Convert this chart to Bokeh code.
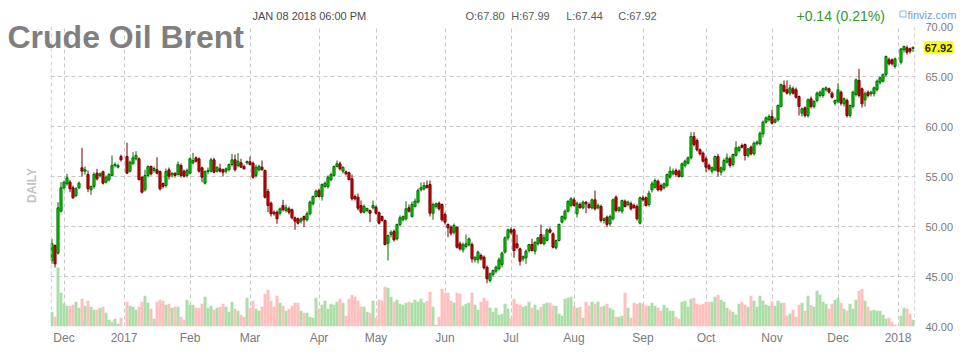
import numpy as np
from bokeh.plotting import figure
from bokeh.models import Range1d, FixedTicker, Span, ColumnDataSource, NumeralTickFormatter
from bokeh.core.properties import value
from bokeh.embed import file_html
from bokeh.resources import INLINE

# ---------------- data (one slot per trading day, None = holiday slot) ----------------
opens = [
    46.60, 48.10, 47.33, 51.53, 53.87, 54.27, 54.43, 53.87, 53.10, 53.87,
    55.87, 55.53, 55.20, 53.67, 54.00, 55.33, 55.10, 55.47, 54.43, 54.67,
    55.10, 56.10, 55.93, 57.00, None, 57.00, 55.53, 56.27, 56.77, 56.77,
    54.93, 53.67, 55.10, 56.00, 55.60, 55.67, 55.50, 54.30, 54.10, 55.67,
    55.17, 55.33, 55.20, 56.10, 55.53, 55.10, 55.33, 56.37, 56.87, 56.77,
    55.87, 54.33, 55.50, 55.53, 56.67, 55.53, 55.77, 55.67, 55.53, 55.70,
    56.20, 56.67, 56.10, 56.37, 56.00, 56.37, 56.47, 56.33, 55.10, 55.67,
    55.93, 55.60, 53.50, 52.33, 51.43, 51.43, 51.33, 52.10, 51.60, 51.77,
    51.67, 50.87, 50.77, 50.53, 51.00, 50.67, 51.27, 52.27, 53.00, 53.60,
    53.00, 54.00, 54.00, 54.67, 55.10, 56.00, 56.27, 55.53, 55.47, 55.37,
    54.77, 53.00, 52.93, 52.10, 51.43, 51.60, 51.60, 51.87, 51.93, 51.37,
    51.00, 50.60, 48.33, 49.20, 49.50, 48.77, 50.20, 50.67, 50.77, 51.87,
    51.00, 52.00, 52.43, 53.67, 53.77, 54.10, 54.20, 51.33, 52.00, 52.33,
    52.20, 51.20, 50.20, 49.93, 49.43, 49.93, 48.27, 47.67, 48.00, 48.17,
    48.20, 46.67, 46.67, 47.10, 46.93, 45.93, 44.60, 45.20, 45.53, 45.77,
    46.20, 47.43, 48.87, 49.67, 49.67, 48.27, 47.77, 46.77, 46.87, 47.60,
    48.20, 47.53, 48.27, 49.20, 48.27, 48.60, 49.67, 49.27, 47.87, 48.60,
    50.43, 50.77, 51.53, 52.10, 52.67, 51.27, 52.20, 51.87, 52.43, 52.20,
    51.87, 52.67, 51.87, 52.00, 50.60, 50.93, 50.27, 50.77, 52.93, 51.60,
    51.53, 52.53, 52.20, 52.27, 52.10, 52.00, 50.33, 52.87, 52.87, 52.20,
    53.67, 53.93, 54.53, 54.10, 53.87, 54.10, 54.93, 55.27, 55.60, 55.53,
    55.00, 56.10, 56.33, 56.87, 59.00, 58.60, 57.67, 57.33, 56.77, 56.10,
    55.53, 55.67, 57.00, 55.43, 55.67, 56.43, 56.77, 56.20, 57.10, 57.60,
    58.10, 58.20, 57.10, 57.93, 57.27, 58.27, 58.27, 59.27, 60.43, 60.67,
    61.00, 60.43, 60.67, 62.00, 64.10, 63.67, 63.33, 63.77, 63.67, 63.00,
    61.33, 61.87, 61.10, 62.77, 62.00, 62.60, 63.10, 63.10, 63.67, 63.77,
    63.33, 62.33, 62.53, 63.43, 62.27, 62.60, 61.10, 62.00, 63.20, 64.60,
    63.77, 62.67, 63.43, 63.27, 63.27, 63.67, 64.43, 64.53, 65.20, 66.67,
    66.67, 66.00, None, 66.43, 67.67, 67.87, 67.77, 67.80,
]
highs = [
    48.77, 48.20, 52.43, 54.43, 54.60, 55.27, 54.67, 54.10, 53.93, 54.50,
    57.87, 56.00, 55.60, 54.10, 55.43, 55.77, 55.40, 55.60, 55.10, 55.33,
    57.10, 56.40, 56.30, 57.20, None, 58.37, 56.60, 57.43, 57.53, 56.90,
    55.00, 55.67, 56.10, 56.10, 56.00, 56.93, 55.60, 54.40, 55.80, 55.90,
    55.40, 55.40, 56.50, 56.30, 55.70, 55.80, 56.90, 57.37, 57.00, 56.90,
    56.00, 55.60, 55.90, 56.87, 56.87, 56.00, 56.27, 55.80, 55.90, 56.30,
    57.27, 57.20, 57.33, 56.77, 56.20, 56.60, 57.00, 56.50, 56.17, 56.17,
    56.60, 55.70, 53.77, 52.50, 51.60, 51.60, 51.90, 52.67, 52.20, 52.00,
    51.80, 51.00, 50.90, 50.90, 51.10, 51.50, 52.60, 53.10, 53.70, 53.80,
    54.30, 54.50, 55.10, 55.40, 56.10, 56.60, 56.50, 56.00, 55.60, 55.50,
    55.20, 53.20, 53.30, 52.60, 52.20, 51.90, 51.70, 52.60, 52.10, 51.50,
    51.10, 50.70, 49.20, 49.60, 49.70, 50.30, 51.10, 51.10, 52.53, 52.20,
    52.50, 52.80, 53.80, 54.40, 54.43, 54.60, 54.60, 52.40, 52.40, 52.50,
    52.30, 51.40, 50.30, 50.10, 50.30, 50.00, 48.50, 48.40, 49.20, 48.90,
    48.40, 47.00, 47.60, 47.30, 47.10, 46.10, 45.40, 45.70, 46.10, 46.90,
    47.50, 49.00, 49.80, 49.90, 49.80, 49.20, 47.90, 47.10, 47.70, 48.20,
    48.77, 48.50, 48.90, 50.20, 49.20, 49.80, 49.90, 49.40, 48.70, 50.30,
    51.10, 51.70, 52.60, 52.93, 52.90, 52.50, 52.40, 52.60, 52.53, 52.40,
    52.80, 53.60, 52.30, 52.20, 50.90, 51.10, 51.20, 52.80, 53.10, 52.00,
    52.70, 52.70, 52.60, 52.50, 52.30, 52.20, 53.00, 53.10, 53.00, 53.60,
    54.50, 54.80, 54.70, 54.30, 54.40, 55.30, 56.00, 55.80, 55.80, 55.70,
    56.40, 56.70, 57.00, 59.43, 59.43, 58.80, 57.80, 57.50, 57.00, 56.30,
    56.00, 57.10, 57.27, 56.00, 56.80, 57.30, 57.00, 57.30, 58.53, 58.00,
    58.30, 58.30, 57.80, 58.10, 58.50, 58.60, 59.50, 60.60, 61.00, 61.20,
    61.67, 60.90, 62.20, 64.30, 64.60, 64.60, 64.20, 64.00, 63.90, 63.10,
    61.90, 62.00, 62.80, 63.00, 62.60, 63.50, 63.60, 63.90, 64.00, 63.90,
    63.50, 62.70, 64.33, 63.60, 62.90, 62.80, 62.20, 63.60, 64.80, 65.77,
    63.90, 63.50, 63.60, 63.60, 64.00, 64.70, 65.00, 65.30, 67.10, 66.90,
    66.80, 66.90, None, 67.80, 68.10, 68.10, 67.90, 67.99,
]
lows = [
    46.27, 45.90, 47.20, 51.40, 53.70, 54.10, 53.43, 52.77, 52.93, 53.73,
    55.00, 55.20, 53.43, 53.17, 53.77, 54.60, 54.90, 54.20, 54.30, 54.50,
    55.00, 55.90, 55.80, 56.50, None, 55.27, 55.40, 56.20, 56.60, 54.60,
    53.30, 53.50, 54.90, 55.10, 55.40, 55.20, 53.60, 53.80, 53.90, 54.70,
    54.90, 54.90, 55.10, 54.90, 54.90, 54.90, 55.20, 56.20, 56.40, 55.40,
    54.43, 54.20, 55.20, 55.40, 55.33, 55.40, 55.40, 55.00, 55.30, 55.50,
    56.00, 55.50, 55.90, 55.90, 55.70, 56.20, 56.10, 54.80, 54.90, 55.50,
    55.60, 52.80, 51.43, 51.00, 51.10, 50.27, 51.10, 51.50, 51.40, 51.20,
    50.70, 49.67, 50.20, 50.30, 49.93, 50.50, 51.10, 52.10, 52.90, 52.90,
    52.60, 53.90, 53.80, 54.50, 55.00, 55.90, 55.60, 55.30, 55.10, 54.60,
    52.60, 52.60, 51.60, 51.30, 51.30, 51.40, 50.43, 51.70, 51.20, 50.20,
    50.50, 48.10, 46.60, 48.90, 48.50, 48.60, 50.00, 50.50, 50.60, 51.40,
    50.90, 51.90, 52.30, 53.50, 53.60, 53.90, 51.00, 50.67, 51.80, 51.60,
    50.50, 50.20, 48.93, 49.10, 49.20, 47.80, 47.60, 47.40, 47.80, 48.00,
    46.40, 46.40, 46.30, 46.60, 45.70, 44.33, 44.40, 45.00, 45.30, 45.60,
    45.90, 47.30, 48.60, 49.20, 46.87, 47.80, 46.10, 46.50, 46.27, 47.40,
    47.50, 47.20, 48.10, 48.20, 48.10, 48.50, 49.30, 47.80, 47.70, 48.50,
    50.30, 50.60, 51.40, 51.90, 52.00, 50.90, 51.80, 51.70, 51.33, 51.80,
    51.70, 51.60, 51.70, 50.40, 50.30, 49.93, 50.00, 50.60, 51.40, 51.40,
    51.30, 51.90, 52.00, 51.60, 51.80, 50.60, 50.20, 52.50, 52.00, 52.00,
    53.40, 53.80, 53.50, 53.50, 53.70, 53.90, 54.80, 55.10, 55.00, 54.90,
    54.90, 55.90, 56.20, 56.70, 58.00, 57.50, 57.10, 56.40, 55.43, 55.60,
    55.30, 55.50, 55.00, 55.10, 55.50, 56.30, 55.90, 56.00, 57.00, 57.40,
    57.80, 56.60, 56.90, 57.10, 57.10, 58.10, 58.10, 58.90, 60.30, 60.50,
    60.20, 60.30, 60.50, 61.90, 63.40, 63.20, 63.10, 63.20, 62.80, 61.10,
    61.00, 60.90, 60.90, 61.80, 61.80, 62.40, 62.90, 62.90, 63.50, 63.30,
    62.80, 62.10, 62.30, 62.10, 62.00, 60.90, 60.90, 61.80, 63.00, 62.90,
    61.90, 62.00, 62.90, 63.00, 63.00, 63.50, 64.20, 64.40, 65.00, 66.10,
    66.10, 65.80, None, 66.20, 67.40, 67.20, 67.30, 67.44,
]
closes = [
    48.27, 46.27, 51.87, 53.87, 54.43, 54.87, 53.77, 52.87, 53.77, 54.33,
    55.53, 55.67, 53.77, 54.00, 55.20, 54.77, 55.27, 54.33, 54.93, 55.20,
    56.10, 56.20, 56.10, 56.67, None, 55.33, 56.43, 56.87, 57.10, 54.70,
    53.43, 55.10, 56.00, 55.27, 55.80, 55.33, 53.77, 54.00, 55.50, 55.03,
    55.33, 55.10, 56.20, 55.10, 55.03, 55.60, 56.77, 56.60, 56.53, 55.53,
    54.93, 55.50, 55.60, 56.67, 55.43, 55.93, 55.53, 55.43, 55.77, 56.20,
    56.67, 55.67, 56.53, 55.93, 55.77, 56.50, 56.20, 54.93, 55.93, 56.00,
    55.67, 52.93, 52.10, 51.27, 51.27, 50.77, 51.77, 51.67, 51.87, 51.43,
    50.87, 50.53, 50.33, 50.77, 50.67, 51.27, 52.43, 53.00, 53.53, 53.00,
    54.20, 54.33, 54.93, 55.20, 56.00, 56.27, 55.77, 55.93, 55.27, 54.70,
    52.77, 52.77, 51.83, 51.43, 52.00, 51.80, 51.33, 52.10, 51.33, 50.33,
    50.60, 48.20, 49.10, 49.43, 48.67, 50.20, 50.87, 51.00, 51.77, 51.53,
    52.20, 52.53, 53.60, 53.87, 54.10, 53.87, 51.33, 52.20, 52.27, 51.77,
    50.67, 50.43, 49.87, 49.33, 50.10, 47.93, 47.77, 48.17, 48.27, 48.77,
    46.77, 46.93, 47.43, 46.77, 45.87, 44.77, 45.27, 45.60, 45.93, 46.67,
    47.33, 48.87, 49.67, 49.43, 47.60, 47.87, 46.53, 47.00, 47.53, 48.20,
    47.60, 48.43, 48.87, 48.33, 48.87, 49.67, 49.43, 47.93, 48.60, 50.20,
    51.00, 51.53, 52.53, 52.77, 52.10, 52.33, 51.87, 52.43, 52.27, 51.87,
    52.67, 51.77, 52.10, 50.60, 50.77, 50.20, 51.00, 52.67, 51.60, 51.87,
    52.60, 52.00, 52.43, 51.77, 51.87, 50.77, 52.87, 52.67, 52.10, 53.33,
    54.27, 54.60, 53.67, 53.67, 54.27, 55.20, 55.53, 55.53, 55.20, 55.00,
    56.27, 56.53, 56.87, 59.00, 58.20, 57.67, 57.27, 56.53, 55.93, 55.77,
    55.87, 57.00, 55.53, 55.87, 56.60, 56.87, 56.10, 57.20, 57.87, 57.93,
    57.93, 57.10, 57.77, 57.27, 58.33, 58.43, 59.33, 60.43, 60.87, 61.00,
    60.33, 60.67, 62.10, 64.20, 63.53, 63.33, 63.87, 63.33, 62.93, 62.00,
    61.77, 61.10, 62.67, 62.00, 62.53, 63.33, 63.43, 63.77, 63.87, 63.43,
    62.93, 62.60, 63.67, 62.33, 62.77, 61.10, 62.10, 63.43, 64.67, 63.10,
    62.27, 63.27, 63.10, 63.43, 63.87, 64.53, 64.87, 65.20, 67.00, 66.27,
    66.27, 66.77, None, 67.77, 68.00, 67.43, 67.53, 67.92,
]
volume = [
    14.7, 9.7, 59.0, 33.7, 23.0, 20.7, 20.7, 21.7, 24.7, 18.7,
    27.7, 20.7, 25.7, 19.7, 16.7, 16.7, 18.7, 19.7, 13.7, 6.7,
    4.7, 7.7, 2.7, 8.7, None, 24.7, 20.7, 19.7, 16.7, 19.7,
    24.7, 30.7, 23.7, 17.7, 7.7, 24.7, 26.7, 25.7, 21.7, 22.7,
    18.7, 19.7, 19.7, 9.7, 6.7, 26.7, 21.7, 21.7, 18.7, 18.7,
    22.7, 29.7, 18.7, 20.7, 16.7, 18.7, 19.7, 22.7, 19.7, 14.7,
    24.7, 17.7, 15.7, 11.7, 9.7, 28.7, 18.7, 25.7, 17.7, 15.7,
    19.7, 32.7, 36.7, 25.7, 19.7, 30.7, 23.7, 20.7, 15.7, 17.7,
    20.7, 23.7, 23.7, 15.7, 13.7, 13.7, 9.7, 8.7, 28.7, 17.7,
    21.7, 25.7, 17.7, 22.7, 21.7, 24.7, 27.7, 23.7, 10.7, 27.7,
    31.7, 29.7, 25.7, 19.7, 19.7, 14.7, 13.7, 25.7, 8.7, 26.7,
    25.7, 39.7, 38.7, 29.7, 24.7, 26.7, 22.7, 21.7, 23.7, 24.7,
    23.7, 26.7, 24.7, 27.7, 23.7, 25.7, 34.7, 19.7, 1.7, 9.7,
    37.7, 33.7, 33.7, 25.7, 23.7, 33.7, 32.7, 20.7, 22.7, 23.7,
    33.7, 21.7, 16.7, 24.7, 28.7, 25.7, 18.7, 14.7, 18.7, 11.7,
    12.7, 22.7, 17.7, 8.7, 27.7, 22.7, 21.7, 19.7, 20.7, 24.7,
    18.7, 21.7, 16.7, 19.7, 22.7, 23.7, 23.7, 20.7, 20.7, 12.7,
    10.7, 27.7, 28.7, 29.7, 20.7, 18.7, 19.7, 8.7, 24.7, 20.7,
    24.7, 22.7, 24.7, 19.7, 20.7, 22.7, 18.7, 16.7, 9.7, 9.7,
    10.7, 33.7, 18.7, 8.7, 23.7, 22.7, 23.7, 22.7, 20.7, 20.7,
    23.7, 20.7, 18.7, 15.7, 21.7, 18.7, 15.7, 15.7, 9.7, 7.7,
    24.7, 25.7, 19.7, 27.7, 28.7, 22.7, 21.7, 22.7, 24.7, 24.7,
    24.7, 29.7, 31.7, 26.7, 24.7, 18.7, 16.7, 14.7, 11.7, 22.7,
    24.7, 21.7, 19.7, 30.7, 25.7, 19.7, 30.7, 25.7, 21.7, 20.7,
    24.7, 20.7, 25.7, 23.7, 23.7, 10.7, 12.7, 16.7, 9.7, 21.7,
    23.7, 15.7, 30.7, 21.7, 19.7, 35.7, 31.7, 24.7, 22.7, 17.7,
    22.7, 26.7, 28.7, 23.7, 17.7, 15.7, 22.7, 17.7, 26.7, 35.7,
    37.7, 25.7, 19.7, 15.7, 16.7, 15.7, 15.7, 11.7, 7.7, 8.7,
    4.7, 1.7, None, 10.7, 18.7, 17.7, 12.7, 6.7,
]
month_ticks = [4, 24, 46, 66, 89, 108, 131, 153, 174, 197, 218, 240, 262, 282]
month_labels = ["Dec", "2017", "Feb", "Mar", "Apr", "May", "Jun", "Jul", "Aug",
                "Sep", "Oct", "Nov", "Dec", "2018"]
price_ticks = [40, 45, 50, 55, 60, 65, 70]
header_date = "JAN 08 2018 06:00 PM"
change_text = "+0.14 (0.21%)"

# ---------------- build ----------------
o = np.array(opens, dtype=float)
h = np.array(highs, dtype=float)
l = np.array(lows, dtype=float)
c = np.array(closes, dtype=float)
v = np.array(volume, dtype=float)
x = np.arange(len(c))
up = c >= o

src = ColumnDataSource(dict(
    x=x, h=h, l=l,
    top=np.maximum(o, c), bottom=np.minimum(o, c),
    fill=["#00dc00" if u else "#e00000" for u in up],
    edge=["#006a00" if u else "#720000" for u in up],
    vol=v,
    vfill=["#abdfa7" if u else "#ffbfbf" for u in up],
))

W, H = 965, 355
LB, RB, TB, BB = 50, 50, 26, 29
X0 = -0.5
SLOT = 3.0
PX_PER_USD = 10.0
x_end = X0 + (W - LB - RB) / SLOT

p = figure(width=W, height=H, title=None,
           x_range=Range1d(X0, x_end), y_range=Range1d(price_ticks[0], price_ticks[-1]),
           y_axis_location="right", output_backend="svg", toolbar_location=None,
           min_border_left=LB, min_border_right=RB, min_border_top=TB, min_border_bottom=BB,
           outline_line_color=None, background_fill_color="white", border_fill_color="white")

p.extra_y_ranges = {"vol": Range1d(0, 300)}

GRID = "#c9c9c9"
p.xgrid.grid_line_color = GRID
p.xgrid.grid_line_dash = "4 3"
p.ygrid.grid_line_color = GRID
p.ygrid.grid_line_dash = "4 3"

def px_x(px):
    return X0 + (px - LB) / SLOT

def px_y(py):
    return price_ticks[-1] - (py - TB) / PX_PER_USD

for loc in (px_x(50.7), px_x(914.3)):
    p.add_layout(Span(location=loc, dimension="height", line_color=GRID, line_dash="4 3", line_width=1))

p.vbar(x="x", width=1.0, top="vol", bottom=0, y_range_name="vol", source=src,
       fill_color="vfill", line_color=None)
p.segment(x0="x", y0="h", x1="x", y1="l", source=src, line_color="edge", line_width=1)
p.vbar(x="x", width=0.7, top="top", bottom="bottom", source=src,
       fill_color="fill", line_color="edge", line_width=1)

xa = p.xaxis[0]
xa.ticker = FixedTicker(ticks=month_ticks)
xa.major_label_overrides = {t: s for t, s in zip(month_ticks, month_labels)}
ya = p.yaxis[0]
ya.ticker = FixedTicker(ticks=price_ticks)
ya.formatter = NumeralTickFormatter(format="0.00")
for ax, stand, size in ((xa, 4, "12px"), (ya, 10, "11px")):
    ax.axis_line_color = None
    ax.major_tick_line_color = None
    ax.minor_tick_line_color = None
    ax.major_tick_out = 0
    ax.major_tick_in = 0
    ax.major_label_standoff = stand
    ax.major_label_text_font = "Liberation Sans"
    ax.major_label_text_font_size = size
    ax.major_label_text_color = "#7a7a7a"

def add_text(px, py, text, size, color, bold=False, align="left", baseline="middle", angle=0.0):
    # text glyph on the overlay level so it can sit outside the data frame
    p.text(x=[px_x(px)], y=[px_y(py)], text=[text], angle=angle,
           text_font=value("Liberation Sans"), text_font_size=value(size),
           text_color=color, text_font_style="bold" if bold else "normal",
           text_align=align, text_baseline=baseline, level="overlay")

last = len(c) - 1
# yellow box behind the last price
p.quad(left=[px_x(923)], right=[px_x(953)], top=[px_y(40.5)], bottom=[px_y(53)],
       fill_color="#ffff00", line_color=None, level="overlay")
# small finviz icon
p.quad(left=[px_x(899.5)], right=[px_x(905.5)], top=[px_y(10.5)], bottom=[px_y(16.5)],
       fill_color=None, line_color="#8fb6de", line_width=1, level="overlay")

add_text(7, 36, "Crude Oil Brent", "32px", "#7f7f7f", bold=True, baseline="alphabetic")
add_text(252, 15, header_date, "11px", "#4a4a4a")
for px0, key, val in ((465, "O", o[last]), (510.7, "H", h[last]),
                      (565.7, "L", l[last]), (617.7, "C", c[last])):
    add_text(px0, 15, f"{key}:{val:.2f}", "11px", "#5a5a5a")
add_text(796, 15, change_text, "14px", "#2e9a2e")
add_text(907, 14, "finviz.com", "11px", "#6c9fd3")
add_text(938, 47, f"{c[last]:.2f}", "11px", "#222222", bold=True, align="center")
add_text(31, 185, "DAILY", "12px", "#c4c4c4", bold=True, align="center", angle=np.pi / 2)

open("out.html", "w").write(file_html(p, INLINE))
